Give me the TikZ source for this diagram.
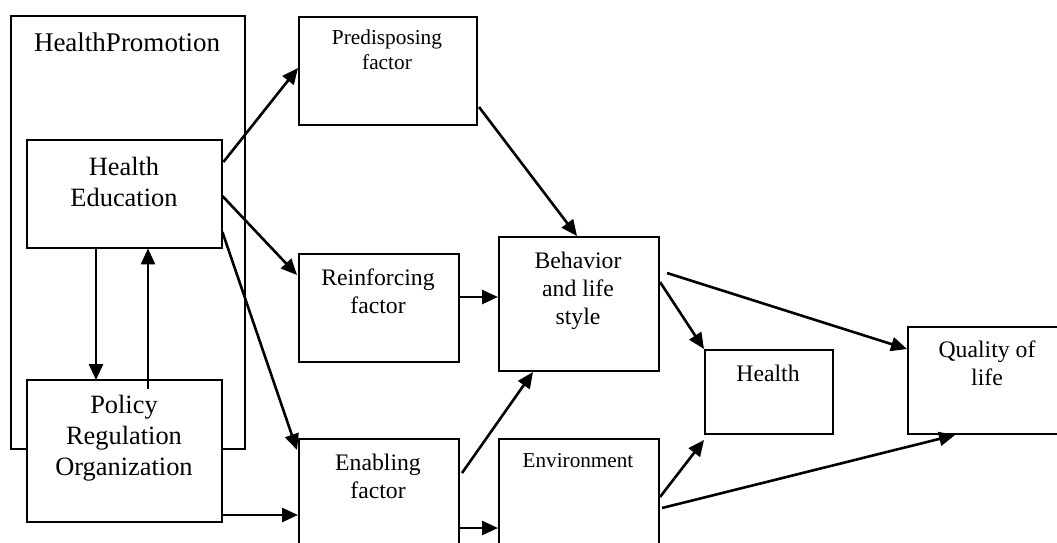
\documentclass[tikz,border=0pt]{standalone}
\usepackage{fontspec}
\setmainfont{Liberation Serif}
\usetikzlibrary{arrows.meta}
\begin{document}
\begin{tikzpicture}[x=1pt,y=-1pt,
  box/.style={draw=black,line width=2pt,fill=white},
  arr/.style={line width=2.6pt,-{Triangle[length=16pt,width=14pt]}},
  lbl/.style={inner sep=0pt,align=center,anchor=north},
  fbig/.style={font=\fontsize{27}{32}\selectfont},
  fmid/.style={font=\fontsize{26.4}{31}\selectfont},
  fsm/.style={font=\fontsize{23.7}{28}\selectfont},
  ftiny/.style={font=\fontsize{21.3}{25}\selectfont}]
\useasboundingbox (0,0) rectangle (1057,542);
\clip (0,0) rectangle (1057,542);
% boxes
\path[box] (11,16) rectangle (245,449);
\node[lbl,fbig] (hpt) at (127,33) {HealthPromotion};
\path[box] (27,140) rectangle (222,248);
\path[box] (27,380) rectangle (222,522);
\node[draw=none,inner sep=0pt,minimum width=195pt,minimum height=108pt,anchor=north west] (he) at (27,140) {};
\node[draw=none,inner sep=0pt,minimum width=195pt,minimum height=142pt,anchor=north west] (pol) at (27,380) {};
\node[box,inner sep=0pt,minimum width=178pt,minimum height=108pt,anchor=north west] (pre) at (298,16) {};
\node[box,inner sep=0pt,minimum width=160pt,minimum height=108pt,anchor=north west] (rei) at (298,253) {};
\node[box,inner sep=0pt,minimum width=160pt,minimum height=130pt,anchor=north west] (ena) at (298,438) {};
\node[box,inner sep=0pt,minimum width=160pt,minimum height=134pt,anchor=north west] (beh) at (498,236) {};
\node[box,inner sep=0pt,minimum width=160pt,minimum height=130pt,anchor=north west] (env) at (498,438) {};
\node[box,inner sep=0pt,minimum width=128pt,minimum height=84pt,anchor=north west] (hea) at (704,349) {};
\node[box,inner sep=0pt,minimum width=165pt,minimum height=107pt,anchor=north west] (qol) at (907,326) {};
% labels
\node[lbl,fmid] (het) at (124,157) {Health\\Education};
\node[lbl,fmid] (polt) at (124,395) {Policy\\Regulation\\Organization};
\node[lbl,ftiny] (pret) at (387,30) {Predisposing\\factor};
\node[lbl,fsm] (reit) at (378,269) {Reinforcing\\factor};
\node[lbl,fsm] (beht) at (578,252) {Behavior\\and life\\style};
\node[lbl,fsm] (enat) at (378,454) {Enabling\\factor};
\node[lbl,font=\fontsize{21.2}{25}\selectfont] (envt) at (578,453) {Environment};
\node[lbl,fsm] (heat) at (768,365) {Health};
\node[lbl,fsm] (qolt) at (987,341) {Quality of\\life};
% connectors
\draw[arr] ([shift={(1,22)}]he.north east) -- ([shift={(0,52)}]pre.north west);
\draw[arr] ([shift={(0,56)}]he.north east) -- ([shift={(-1,22)}]rei.north west);
\draw[arr] ([shift={(0,92)}]he.north east) -- ([shift={(-1,12)}]ena.north west);
\draw[arr] ([shift={(69,0)}]he.south west) -- ([shift={(69,0)}]pol.north west);
\draw[arr] ([shift={(121,9)}]pol.north west) -- ([shift={(121,0)}]he.south west);
\draw[arr] ([shift={(0,135)}]pol.north east) -- ([shift={(0,77)}]ena.north west);
\draw[arr] ([shift={(1,91)}]pre.north east) -- ([shift={(79,0)}]beh.north west);
\draw[arr] ([shift={(0,44)}]rei.north east) -- ([shift={(0,61)}]beh.north west);
\draw[arr] ([shift={(2,35)}]ena.north east) -- ([shift={(35,0)}]beh.south west);
\draw[arr] ([shift={(0,90)}]ena.north east) -- ([shift={(0,90)}]env.north west);
\draw[arr] ([shift={(7,37)}]beh.north east) -- ([shift={(0,23)}]qol.north west);
\draw[arr] ([shift={(0,46)}]beh.north east) -- (hea.north west);
\draw[arr] ([shift={(0,59)}]env.north east) -- ([shift={(0,5)}]hea.south west);
\draw[arr] ([shift={(2,70)}]env.north east) -- ([shift={(48,0)}]qol.south west);
\end{tikzpicture}
\end{document}
